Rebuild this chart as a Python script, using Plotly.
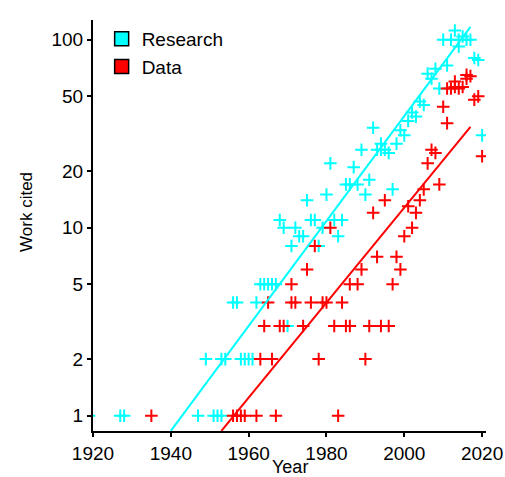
import plotly.graph_objects as go

# citation counts per work
research_years = [1919, 1927, 1928, 1947, 1949, 1951, 1952, 1953, 1953, 1954,
                  1956, 1957, 1958, 1959, 1960, 1961, 1962, 1963, 1964, 1965,
                  1966, 1967, 1968, 1969, 1970, 1971, 1972, 1973, 1974, 1975,
                  1976, 1977, 1978, 1979, 1980, 1981, 1982, 1983, 1984, 1985,
                  1986, 1987, 1988, 1989, 1990, 1991, 1992, 1993, 1994, 1994,
                  1995, 1996, 1997, 1998, 1999, 2000, 2001, 2002, 2003, 2004,
                  2005, 2006, 2007, 2008, 2009, 2010, 2011, 2012, 2013, 2014,
                  2014, 2015, 2016, 2017, 2018, 2019, 2020]
research_cited = [1, 1, 1, 1, 2, 1, 1, 1, 2, 2,
                  4, 4, 2, 2, 2, 2, 4, 5, 5, 5,
                  5, 5, 11, 10, 3, 8, 10, 9, 9, 14,
                  11, 11, 8, 10, 15, 22, 11, 9, 11, 17,
                  17, 21, 17, 26, 15, 18, 34, 26, 28, 26,
                  26, 25, 16, 28, 33, 31, 37, 41, 39, 47,
                  45, 66, 62, 70, 55, 100, 73, 100, 112, 92,
                  100, 104, 100, 100, 80, 78, 31]

data_years = [1935, 1956, 1957, 1958, 1959, 1962, 1963, 1964, 1965, 1966,
              1967, 1968, 1969, 1971, 1971, 1972, 1974, 1975, 1976, 1977,
              1978, 1979, 1980, 1981, 1982, 1983, 1984, 1985, 1986, 1986,
              1988, 1989, 1990, 1991, 1992, 1993, 1994, 1995, 1996, 1997,
              1998, 1999, 2000, 2001, 2002, 2003, 2004, 2005, 2006, 2007,
              2008, 2009, 2010, 2011, 2011, 2012, 2013, 2013, 2014, 2015,
              2016, 2016, 2017, 2018, 2019, 2020]
data_cited = [1, 1, 1, 1, 1, 1, 2, 3, 4, 2,
              1, 3, 3, 4, 5, 4, 3, 6, 4, 8,
              2, 4, 4, 10, 3, 1, 4, 3, 3, 5,
              5, 6, 2, 3, 12, 7, 3, 14, 3, 5,
              7, 6, 9, 13, 10, 12, 14, 16, 22, 26,
              25, 17, 44, 36, 55, 55, 60, 56, 55, 56,
              62, 65, 64, 48, 50, 24]

# fitted trend lines (log scale), end points
research_fit_years = [1940, 2017]
research_fit_cited = [0.83, 117]
data_fit_years = [1953, 2017]
data_fit_cited = [0.83, 34.4]

y_ticks = [1, 2, 5, 10, 20, 50, 100]
x_ticks = [1920, 1940, 1960, 1980, 2000, 2020]

CYAN = "#00FFFF"
RED = "#FF0000"
FONT = "Liberation Sans, Arial, sans-serif"

fig = go.Figure()

for xs, ys, col in [(research_years, research_cited, CYAN),
                    (data_years, data_cited, RED)]:
    fig.add_trace(go.Scatter(x=xs, y=ys, mode="markers", showlegend=False,
                             marker=dict(symbol="cross-thin", size=9,
                                         line=dict(color=col, width=2))))

for xs, ys, col in [(research_fit_years, research_fit_cited, CYAN),
                    (data_fit_years, data_fit_cited, RED)]:
    fig.add_trace(go.Scatter(x=xs, y=ys, mode="lines", showlegend=False,
                             line=dict(color=col, width=2)))

# legend entries drawn as filled boxes
for name, col in [("Research", CYAN), ("Data", RED)]:
    fig.add_trace(go.Scatter(x=[None], y=[None], mode="markers", name=name,
                             marker=dict(symbol="square", size=14, color=col,
                                         line=dict(color="black", width=1.5))))

# axis titles as annotations so they sit where the original puts them
titles = [
    dict(text="Work cited", textangle=-90, x=-0.168, y=0.533, size=17),
    dict(text="Year", textangle=0, x=0.5, y=-0.088, size=18),
]

fig.update_layout(
    template="none",
    width=505, height=477,
    margin=dict(l=93, r=19, t=20, b=46, autoexpand=False),
    paper_bgcolor="white", plot_bgcolor="white",
    font=dict(family=FONT, size=18, color="black"),
    legend=dict(x=0.022, y=1.0, xanchor="left", yanchor="top",
                bgcolor="rgba(0,0,0,0)", font=dict(size=19),
                tracegroupgap=0),
    annotations=[dict(text=t["text"], textangle=t["textangle"],
                      showarrow=False, xref="paper", yref="paper",
                      x=t["x"], y=t["y"], xanchor="center", yanchor="middle",
                      font=dict(size=t["size"])) for t in titles],
)
fig.update_xaxes(range=[1920, 2021], tickvals=x_ticks, ticks="outside",
                 ticklen=4, tickwidth=1.5, tickcolor="black",
                 showline=True, linecolor="black", linewidth=2,
                 showgrid=False, zeroline=False, automargin=False,
                 tickfont=dict(size=19))
fig.update_yaxes(type="log", range=[-0.0814, 2.105], tickvals=y_ticks,
                 ticktext=[str(v) for v in y_ticks], ticks="outside",
                 ticklen=4, tickwidth=1.5, tickcolor="black",
                 showline=True, linecolor="black", linewidth=2,
                 showgrid=False, zeroline=False, automargin=False,
                 tickfont=dict(size=19))

# drop the page's default body margin so the figure fills the window exactly
fig.write_html("out.html", config={"displayModeBar": False},
               post_script="document.body.style.margin='0px';"
                           "document.body.style.overflow='hidden';")
